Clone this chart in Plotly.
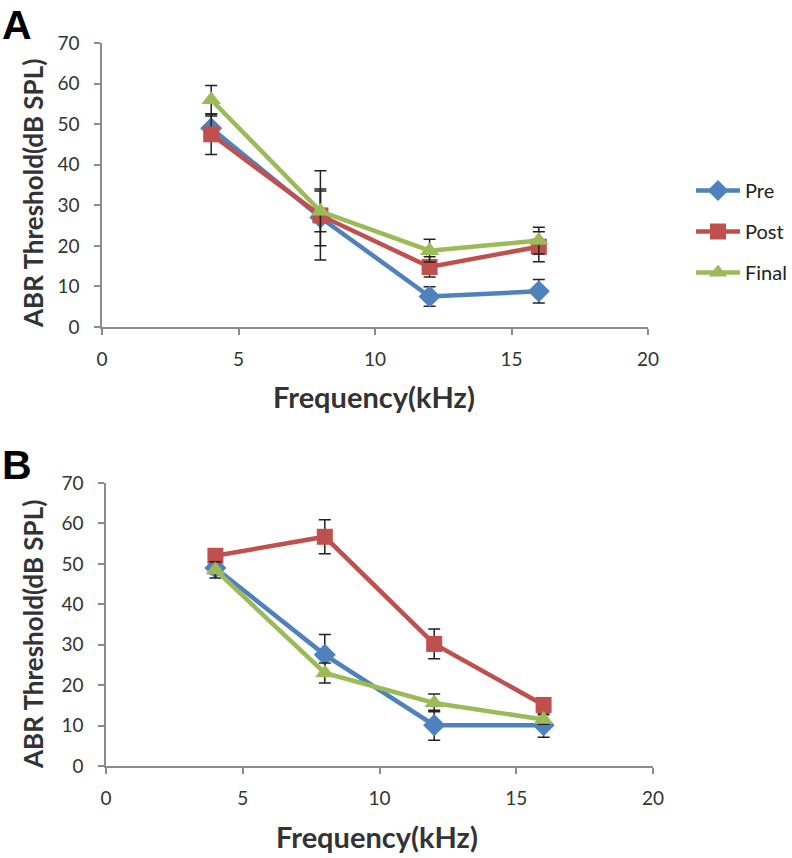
import plotly.graph_objects as go

freq = [4, 8, 12, 16]
series = ["Pre", "Post", "Final"]
colors = {"Pre": "#4F81BD", "Post": "#C0504D", "Final": "#9BBB59"}
symbols = {"Pre": "diamond", "Post": "square", "Final": "triangle-up"}
msize = {"Pre": 17, "Post": 16, "Final": 17}

# Panel A
a_pre = [49, 27, 7.5, 8.8]
a_pre_err = [3, 7, 2.4, 2.9]
a_post = [47.5, 27.5, 14.8, 19.8]
a_post_err = [5, 11, 2.5, 3.7]
a_final = [56, 28.5, 18.8, 21.3]
a_final_err = [3.5, 5, 2.8, 3.3]

# Panel B
b_pre = [49, 27.5, 10.1, 10.1]
b_pre_err = [1.5, 5, 3.7, 3]
b_post = [52, 56.7, 30.2, 15.1]
b_post_err = [1.2, 4.2, 3.7, 1.2]
b_final = [48.5, 23, 15.6, 11.5]
b_final_err = [2, 2.5, 2.2, 1.2]

panel_a = {"Pre": (a_pre, a_pre_err), "Post": (a_post, a_post_err), "Final": (a_final, a_final_err)}
panel_b = {"Pre": (b_pre, b_pre_err), "Post": (b_post, b_post_err), "Final": (b_final, b_final_err)}

W, H = 792, 858
fig = go.Figure()

for name in series:
    y, e = panel_a[name]
    fig.add_trace(go.Scatter(
        x=freq, y=y, name=name, mode="lines+markers",
        line=dict(color=colors[name], width=4.5),
        marker=dict(symbol=symbols[name], size=msize[name], color=colors[name]),
        error_y=dict(type="data", array=e, visible=True, color="#222", thickness=1.5, width=6),
        xaxis="x", yaxis="y", legendgroup=name, showlegend=True,
    ))
for name in series:
    y, e = panel_b[name]
    fig.add_trace(go.Scatter(
        x=freq, y=y, name=name, mode="lines+markers",
        line=dict(color=colors[name], width=4.5),
        marker=dict(symbol=symbols[name], size=msize[name], color=colors[name]),
        error_y=dict(type="data", array=e, visible=True, color="#222", thickness=1.5, width=6),
        xaxis="x2", yaxis="y2", legendgroup=name, showlegend=False,
    ))

def px_x(p):
    return p / W

def px_y(p):
    return 1 - p / H

axis_common = dict(
    showgrid=False, zeroline=False, showline=True, linecolor="#8c8c8c", linewidth=1.5,
    ticks="outside", tickcolor="#8c8c8c", ticklen=6, tickwidth=1.5, automargin=False,
    tickfont=dict(family="Lato, Open Sans, sans-serif", size=19, color="#333"),
)

fig.update_layout(
    width=W, height=H,
    margin=dict(l=0, r=0, t=0, b=0, pad=0, autoexpand=False),
    paper_bgcolor="white", plot_bgcolor="white",
    xaxis=dict(domain=[px_x(102), px_x(648)], range=[0, 20], dtick=5, anchor="y",
               ticklabelstandoff=8, **axis_common),
    yaxis=dict(domain=[px_y(327), px_y(43)], range=[0, 70], dtick=10, anchor="x",
               ticklabelstandoff=11, **axis_common),
    xaxis2=dict(domain=[px_x(106), px_x(653)], range=[0, 20], dtick=5, anchor="y2",
                ticklabelstandoff=8, **axis_common),
    yaxis2=dict(domain=[px_y(766), px_y(483)], range=[0, 70], dtick=10, anchor="x2",
                ticklabelstandoff=11, **axis_common),
    legend=dict(x=1, y=px_y(171), xanchor="right", yanchor="top",
                font=dict(family="Lato, Open Sans, sans-serif", size=20, color="#222"),
                tracegroupgap=12, itemwidth=44, bgcolor="rgba(0,0,0,0)"),
    showlegend=True,
)

title_font = dict(family="Lato, Open Sans, sans-serif", size=26, color="#333", weight="bold")
xt_font = dict(family="Lato, Open Sans, sans-serif", size=29, color="#333", weight="bold")
letter_font = dict(family="Liberation Sans, Arial, sans-serif", size=41, color="black", weight="bold")
annotations = [
    dict(text="A", x=px_x(0), y=px_y(0), xanchor="left", yanchor="top", font=letter_font),
    dict(text="B", x=px_x(0), y=px_y(440), xanchor="left", yanchor="top", font=letter_font),
    dict(text="ABR Threshold(dB SPL)", x=px_x(33), y=px_y(194), textangle=-90,
         xanchor="center", yanchor="middle", font=title_font),
    dict(text="ABR Threshold(dB SPL)", x=px_x(33), y=px_y(635), textangle=-90,
         xanchor="center", yanchor="middle", font=title_font),
    dict(text="Frequency(kHz)", x=px_x(374), y=px_y(396), xanchor="center", yanchor="middle",
         font=xt_font),
    dict(text="Frequency(kHz)", x=px_x(377), y=px_y(836), xanchor="center", yanchor="middle",
         font=xt_font),
]
for a in annotations:
    a.update(xref="paper", yref="paper", showarrow=False)
fig.update_layout(annotations=annotations)

fig.write_html("out.html", config={"displayModeBar": False},
               post_script="document.body.style.margin='0';")
